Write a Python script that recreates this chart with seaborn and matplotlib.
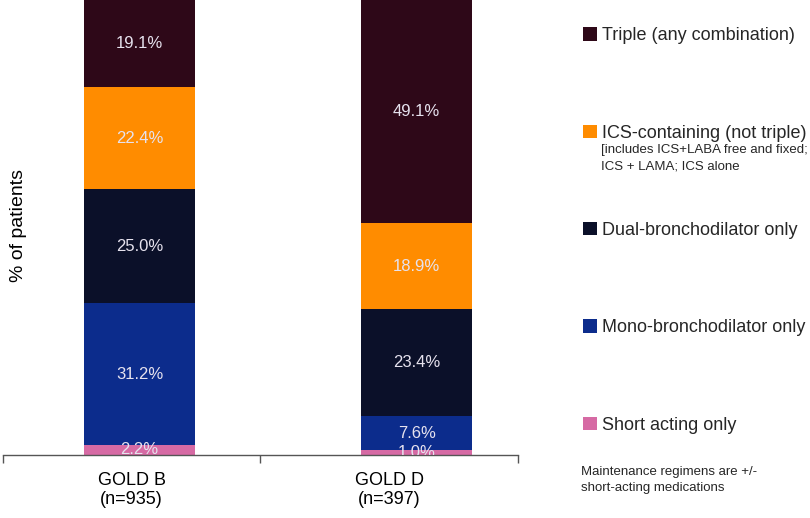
import pandas as pd
import matplotlib.pyplot as plt
import seaborn as sns

groups = ['GOLD B\n(n=935)', 'GOLD D\n(n=397)']
categories = ['Short acting only', 'Mono-bronchodilator only', 'Dual-bronchodilator only',
              'ICS-containing (not triple)', 'Triple (any combination)']
gold_b = [2.2, 31.2, 25.0, 22.4, 19.1]
gold_d = [1.0, 7.6, 23.4, 18.9, 49.1]
colors = ['#d66aa4', '#0c2c8c', '#0b1029', '#ff8c00', '#2e0818']

sns.set_theme(style='white')
plt.rcParams['font.family'] = ['Liberation Sans', 'DejaVu Sans']

# long table with cumulative tops for stacking
rows = []
for g, vals in zip(groups, [gold_b, gold_d]):
    cum = 0
    for c, v in zip(categories, vals):
        cum += v
        rows.append({'group': g, 'category': c, 'value': v, 'top': cum})
df = pd.DataFrame(rows)

fig = plt.figure(figsize=(8.1, 5.18), dpi=100)
ax = fig.add_axes([3 / 810, 1 - 455 / 518, 515 / 810, 455 / 518])

# draw from top segment down so lower ones cover
for c, col in reversed(list(zip(categories, colors))):
    sub = df[df['category'] == c]
    sns.barplot(data=sub, x='group', y='top', color=col, width=0.40, linewidth=0,
                saturation=1, order=groups, ax=ax, label=c)

for i, g in enumerate(groups):
    sub = df[df['group'] == g]
    for _, r in sub.iterrows():
        ax.text(i, r['top'] - r['value'] / 2, f"{r['value']:.1f}%", ha='center', va='center',
                fontsize=12, color='#e6e2ee', clip_on=True)

ax.set_ylim(0, 100)
ax.set_xlim(-0.493, 1.366)
ax.set_yticks([])
ax.set_xlabel('')
ax.set_ylabel('% of patients', fontsize=14, color='black')
ax.yaxis.set_label_coords(0.047, 0.505)
for s in ['top', 'right', 'left']:
    ax.spines[s].set_visible(False)
ax.spines['bottom'].set_color('#555555')
ax.spines['bottom'].set_linewidth(1.0)
# category labels sit mid-way between the boundary ticks, a bit left of the bars
ax.set_xticks([-0.029, 0.9005])
ax.set_xticklabels(groups, fontsize=13, color='black')
ax.tick_params(axis='x', which='major', length=0, pad=12)
ax.set_xticks([-0.493, 0.435, 1.366], minor=True)
ax.tick_params(axis='x', which='minor', bottom=True, length=6, width=1, color='#555555', direction='out')

handles, labels = ax.get_legend_handles_labels()
if ax.get_legend() is not None:
    ax.get_legend().remove()
leg = fig.legend(handles, labels, loc='upper left', bbox_to_anchor=(576 / 810, 1 - 20 / 518),
                 frameon=False, fontsize=13, handlelength=0.75, handleheight=0.75,
                 handletextpad=0.3, labelspacing=4.45, borderaxespad=0)

fig.text(601 / 810, 1 - 158 / 518, '[includes ICS+LABA free and fixed;\nICS + LAMA; ICS alone',
         fontsize=9.5, va='center', ha='left', linespacing=1.55)
fig.text(581 / 810, 1 - 480 / 518, 'Maintenance regimens are +/-\nshort-acting medications',
         fontsize=9.5, va='center', ha='left', linespacing=1.45)

fig.savefig('out.png', dpi=100)
